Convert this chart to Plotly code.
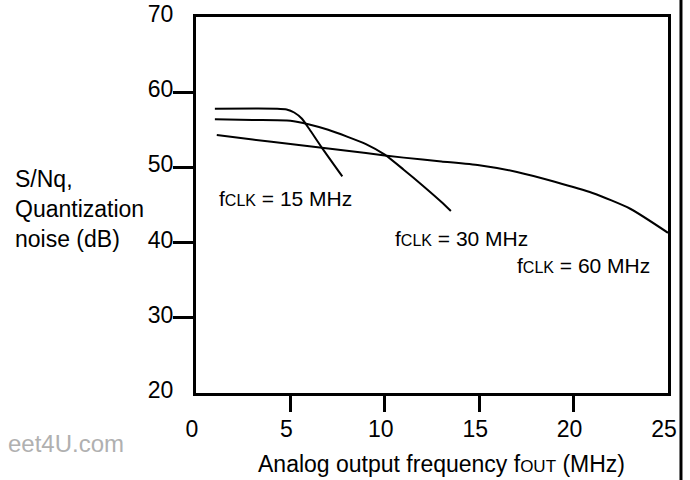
import plotly.graph_objects as go

# ---- data ----
x_15 = [1.0, 4.3, 4.8, 5.2, 5.6, 6.0, 6.7, 7.75]
y_15 = [57.8, 57.8, 57.7, 57.3, 56.5, 55.1, 52.5, 48.8]

x_30 = [1.0, 3.0, 5.0, 6.0, 7.0, 8.0, 9.0, 10.0, 11.0, 12.0, 13.0, 13.5]
y_30 = [56.4, 56.3, 56.2, 55.7, 55.0, 54.1, 53.1, 51.7, 49.7, 47.6, 45.4, 44.2]

x_60 = [1.1, 3, 5, 7, 9, 11, 13, 15, 17, 19, 21, 23, 25]
y_60 = [54.3, 53.7, 53.1, 52.5, 51.9, 51.3, 50.8, 50.3, 49.4, 48.1, 46.6, 44.5, 41.3]

labels = ["15", "30", "60"]
label_x = [1.12, 10.45, 16.9]
label_y = [45.9, 40.5, 36.9]

y_ticks = [20, 30, 40, 50, 60, 70]
y_minor = [30, 40, 50, 60]
x_ticks = [0, 5, 10, 15, 20, 25]
x_minor = [5, 10, 15, 20]

FONT = "Liberation Sans, Arial, Helvetica, sans-serif"
FS = 23
FS_LAB = 21
SMALL = 16

fig = go.Figure()
for xs, ys in [(x_15, y_15), (x_30, y_30), (x_60, y_60)]:
    fig.add_trace(go.Scatter(x=xs, y=ys, mode="lines", line=dict(color="black", width=2, shape="spline", smoothing=0.6),
                             showlegend=False, hoverinfo="skip"))

for lab, lx, ly in zip(labels, label_x, label_y):
    fig.add_annotation(x=lx, y=ly, xref="x", yref="y", xanchor="left", yanchor="middle", showarrow=False,
                       text=f"f<span style='font-size:{SMALL}px'>CLK</span> = {lab} MHz",
                       font=dict(family=FONT, size=FS_LAB, color="black"))

fig.add_annotation(x=-0.386, y=0.49, xref="paper", yref="paper", xanchor="left", yanchor="middle",
                   xshift=-1, align="left", showarrow=False, text="S/Nq,<br>Quantization<br>noise (dB)",
                   font=dict(family=FONT, size=FS, color="black"))

fig.add_annotation(x=0.52, y=-0.19, xref="paper", yref="paper", xanchor="center", yanchor="middle",
                   showarrow=False,
                   text="Analog output frequency f<span style='font-size:17px'>OUT</span> (MHz)",
                   font=dict(family=FONT, size=FS, color="black"))

fig.add_annotation(x=0, y=-0.133, xref="paper", yref="paper", xanchor="right", yanchor="middle",
                   xshift=-70, showarrow=False, text="eet4U.com",
                   font=dict(family=FONT, size=24, color="#b0b0b0"))

# page border line at right
fig.add_shape(type="line", xref="paper", yref="paper", x0=1.0275, x1=1.0275, y0=-0.5, y1=1.5,
              line=dict(color="black", width=3))

fig.update_xaxes(range=[0, 25], tickmode="array", tickvals=x_ticks, ticks="", showgrid=False, zeroline=False,
                 showline=True, linewidth=3, linecolor="black", mirror=True, ticklabelstandoff=13,
                 ticklabelshift=-4, automargin=False,
                 tickfont=dict(family=FONT, size=FS, color="black"),
                 minor=dict(tickmode="array", tickvals=x_minor, ticks="outside", ticklen=16, tickwidth=3,
                            tickcolor="black", showgrid=False))
fig.update_yaxes(range=[20, 70], tickmode="array", tickvals=y_ticks, ticks="", showgrid=False, zeroline=False,
                 showline=True, linewidth=3, linecolor="black", mirror=True, ticklabelstandoff=15,
                 ticklabelshift=-3, automargin=False,
                 tickfont=dict(family=FONT, size=FS, color="black"),
                 minor=dict(tickmode="array", tickvals=y_minor, ticks="outside", ticklen=20, tickwidth=3,
                            tickcolor="black", showgrid=False))

fig.update_layout(width=690, height=480, margin=dict(l=196, r=22, t=17, b=87),
                  paper_bgcolor="white", plot_bgcolor="white", font=dict(family=FONT, size=FS))

fig.write_html("out.html")
